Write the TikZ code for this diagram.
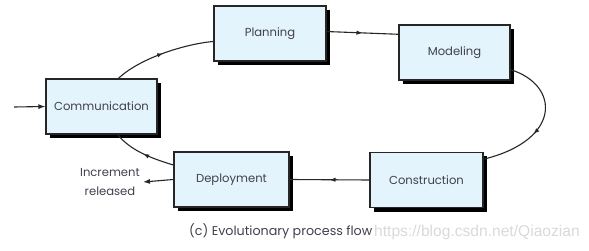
\documentclass[tikz,border=0pt]{standalone}
\usepackage{fontspec}
\setmainfont{Poppins}
\newfontfamily\wmfont{Liberation Sans}
\usetikzlibrary{shadows,decorations.markings,arrows.meta,calc}
\definecolor{boxfill}{HTML}{E4F4FC}
\definecolor{txt}{HTML}{40404E}
\tikzset{
  stage/.style={draw=black!85, line width=1.1pt, fill=boxfill, minimum height=55pt,
    text=txt, font=\fontsize{11.6}{13}\selectfont, inner sep=0pt,
    drop shadow={shadow xshift=4pt, shadow yshift=-4pt, fill=black, opacity=1}},
  flow/.style={line width=1.1pt, draw=black!85,
    decoration={markings, mark=at position #1 with {\arrow{Latex[length=6pt,width=4.5pt]}}},
    postaction={decorate}},
  flow/.default=0.5,
  plain/.style={line width=1.1pt, draw=black!85, -{Latex[length=7pt,width=5pt]}},
  lbl/.style={text=txt, font=\fontsize{11.6}{19}\selectfont, align=center}
}
\begin{document}
\begin{tikzpicture}[x=1pt,y=-1pt]
\useasboundingbox (0,0) rectangle (589,251);
\node[stage, minimum width=111pt] (comm) at (101.5,106.5) {Communication};
\node[stage, minimum width=112pt] (plan) at (270,33.5) {Planning};
\node[stage, minimum width=111pt] (mod) at (454.5,52.5) {Modeling};
\node[stage, minimum width=113pt] (con) at (426.5,180) {Construction};
\node[stage, minimum width=115pt] (dep) at (231.5,179.5) {Deployment};
\node[lbl, inner sep=3pt, anchor=east] (inc) at (143,182) {Increment\\released};
\coordinate (in) at (14,107);
\draw[plain] (in) -- (comm.west);
\draw[plain] (dep.west) -- (inc.east);
\draw[flow] (comm.59) .. controls (140,58) and (185,44) .. (plan.188);
\draw[flow] (plan.2) -- (mod.162);
\draw[flow=0.6] (mod.-17) .. controls (560,85) and (562,140) .. (con.20);
\draw[flow] (con.west) -- (dep.east);
\draw[flow] (dep.166) .. controls (150,158) and (130,150) .. (comm.-60);
\node[lbl, anchor=west, inner sep=0pt, font=\fontsize{12.7}{15}\selectfont] (cap) at (189,231) {(c) Evolutionary process flow};
\node[anchor=west, inner sep=0pt, text=black!15, font=\wmfont\fontsize{15.6}{18}\selectfont] (wm) at (374,232) {https://blog.csdn.net/Qiaozian};
\end{tikzpicture}
\end{document}
